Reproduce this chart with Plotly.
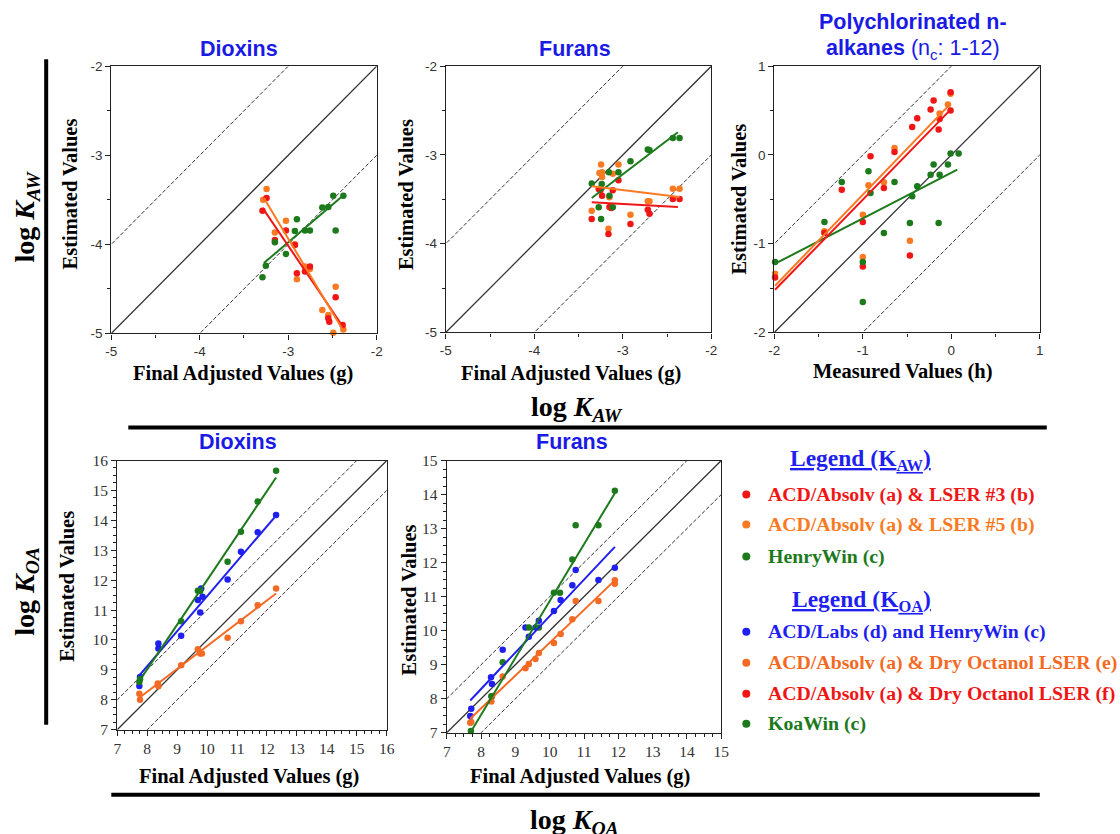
import plotly.graph_objects as go

W, H = 1120, 834
# the page keeps its default 8px body margin and is photographed slightly reduced;
# SX/SY convert target picture pixels into page pixels
BODY = 8
SX, SY = 1120 / 1136, 834 / 852

RED = "#f01616"
ORANGE = "#fa7a22"
ORANGE_2 = "#f46a24"
GREEN = "#1c7a1c"
BLUE = "#1f1ff0"
TITLE_BLUE = "#1a1ae6"

# ---------------- log K_AW : Dioxins ----------------
kaw_diox_orange_x = [-3.283, -3.245, -3.151, -3.026, -2.925, -2.902, -2.811, -2.755, -2.615, -2.547, -2.464, -2.491, -2.377]
kaw_diox_orange_y = [-3.500, -3.380, -3.867, -3.736, -3.999, -4.392, -4.250, -4.276, -4.737, -4.793, -4.475, -4.992, -4.955]
kaw_diox_red_x = [-3.291, -3.245, -3.151, -3.026, -2.925, -2.902, -2.811, -2.755, -2.536, -2.547, -2.464, -2.385]
kaw_diox_red_y = [-3.624, -3.481, -3.950, -3.845, -4.006, -4.325, -4.306, -4.250, -4.868, -4.831, -4.595, -4.906]
kaw_diox_green_x = [-3.291, -3.253, -3.151, -3.026, -2.902, -2.925, -2.811, -2.755, -2.615, -2.547, -2.491, -2.464, -2.377]
kaw_diox_green_y = [-4.370, -4.239, -3.976, -4.107, -3.717, -3.849, -3.845, -3.845, -3.586, -3.582, -3.455, -3.845, -3.455]
kaw_diox_fit_orange = ([-3.275, -2.377], [-3.48, -4.97])
kaw_diox_fit_red = ([-3.290, -2.385], [-3.59, -4.92])
kaw_diox_fit_green = ([-3.275, -2.366], [-4.21, -3.44])

# ---------------- log K_AW : Furans ----------------
kaw_fur_orange_x = [-3.351, -3.245, -3.264, -3.234, -3.234, -3.113, -3.151, -3.162, -3.049, -2.913, -2.717, -2.698, -2.434, -2.358]
kaw_fur_orange_y = [-3.628, -3.109, -3.203, -3.195, -3.248, -3.211, -3.477, -3.831, -3.109, -3.673, -3.523, -3.523, -3.380, -3.380]
kaw_fur_red_x = [-3.351, -3.272, -3.253, -3.234, -3.113, -3.151, -3.132, -3.162, -3.049, -2.913, -2.717, -2.698, -2.434, -2.358]
kaw_fur_red_y = [-3.722, -3.383, -3.398, -3.459, -3.398, -3.586, -3.598, -3.891, -3.286, -3.778, -3.617, -3.662, -3.496, -3.496]
kaw_fur_green_x = [-3.351, -3.272, -3.238, -3.245, -3.158, -3.151, -3.113, -3.049, -2.913, -2.717, -2.698, -2.434, -2.358]
kaw_fur_green_y = [-3.323, -3.590, -3.327, -3.722, -3.195, -3.459, -3.590, -3.195, -3.071, -2.940, -2.947, -2.808, -2.808]
kaw_fur_fit_orange = ([-3.351, -2.358], [-3.353, -3.474])
kaw_fur_fit_red = ([-3.351, -2.377], [-3.534, -3.586])
kaw_fur_fit_green = ([-3.351, -2.377], [-3.485, -2.744])

# ---------------- log K_AW : polychlorinated n-alkanes ----------------
kaw_alk_orange_x = [-1.992, -1.434, -1.0, -1.0, -0.936, -0.762, -0.642, -0.468, -0.132, -0.038, -0.008]
kaw_alk_orange_y = [-1.338, -0.861, -0.673, -1.150, -0.342, -0.308, 0.079, -0.966, 0.466, 0.568, 0.690]
kaw_alk_red_x = [-1.992, -1.434, -1.238, -1.0, -1.0, -0.913, -0.762, -0.642, -0.468, -0.442, -0.385, -0.234, -0.200, -0.143, -0.132, -0.008, -0.008]
kaw_alk_red_y = [-1.380, -0.880, -0.391, -0.756, -1.256, -0.015, -0.372, 0.034, -1.132, 0.316, 0.414, 0.511, 0.613, 0.286, 0.406, 0.500, 0.707]
kaw_alk_green_x = [-1.992, -1.434, -1.238, -0.936, -0.913, -1.0, -1.0, -0.762, -0.642, -0.442, -0.385, -0.468, -0.234, -0.200, -0.143, -0.132, -0.038, -0.008, 0.083]
kaw_alk_green_y = [-1.207, -0.756, -0.305, -0.184, -0.429, -1.207, -1.658, -0.880, -0.305, -0.466, -0.353, -0.767, -0.222, -0.109, -0.767, -0.222, -0.109, 0.015, 0.015]
kaw_alk_fit_orange = ([-1.992, -0.008], [-1.474, 0.579])
kaw_alk_fit_red = ([-1.992, -0.008], [-1.519, 0.511])
kaw_alk_fit_green = ([-1.992, 0.068], [-1.226, -0.165])

# ---------------- log K_OA : Dioxins ----------------
koa_diox_green_x = [7.737, 7.759, 9.133, 9.691, 9.769, 10.685, 11.131, 11.690, 12.304]
koa_diox_green_y = [8.597, 8.687, 10.630, 11.645, 11.634, 12.617, 13.622, 14.627, 15.654]
koa_diox_blue_x = [7.737, 7.759, 8.373, 8.373, 9.133, 9.691, 9.769, 9.803, 9.847, 10.685, 11.131, 11.690, 12.304]
koa_diox_blue_y = [8.463, 8.765, 9.881, 9.714, 10.138, 11.333, 10.920, 11.724, 11.444, 12.025, 12.952, 13.599, 14.180]
koa_diox_orange_x = [7.737, 7.759, 8.351, 8.373, 9.133, 9.691, 9.769, 9.825, 10.685, 11.131, 11.690, 12.304]
koa_diox_orange_y = [8.206, 8.005, 8.541, 8.452, 9.155, 9.691, 9.546, 9.546, 10.071, 10.630, 11.165, 11.724]
koa_diox_fit_green = ([7.737, 12.304], [8.631, 15.43])
koa_diox_fit_blue = ([7.737, 12.304], [8.82, 14.16])
koa_diox_fit_orange = ([7.737, 12.304], [8.07, 11.556])

# ---------------- log K_OA : Furans ----------------
koa_fur_green_x = [7.702, 8.298, 8.629, 9.390, 9.683, 10.122, 10.298, 10.659, 10.756, 11.420, 11.898]
koa_fur_green_y = [7.049, 8.073, 9.068, 10.093, 10.093, 11.117, 11.117, 12.093, 13.098, 13.098, 14.112]
koa_fur_blue_x = [7.683, 7.712, 8.288, 8.317, 8.629, 9.293, 9.390, 9.585, 9.683, 10.122, 10.317, 10.659, 10.756, 11.420, 11.898]
koa_fur_blue_y = [7.488, 7.702, 8.629, 8.434, 9.439, 10.093, 9.820, 10.093, 10.288, 10.580, 10.902, 11.332, 11.780, 11.488, 11.849]
koa_fur_orange_x = [7.683, 7.712, 8.298, 8.317, 8.629, 9.293, 9.390, 9.585, 9.683, 10.122, 10.317, 10.659, 10.756, 11.420, 11.898, 11.898]
koa_fur_orange_y = [7.293, 7.312, 7.917, 8.073, 8.649, 8.893, 9.020, 9.166, 9.341, 9.634, 9.898, 10.337, 10.873, 10.873, 11.380, 11.478]
koa_fur_fit_green = ([7.683, 11.898], [7.0, 14.04])
koa_fur_fit_blue = ([7.683, 11.898], [7.946, 12.463])
koa_fur_fit_orange = ([7.683, 11.898], [7.41, 11.478])

kaw_ticks_a = [-5, -4, -3, -2]
kaw_ticks_b = [-2, -1, 0, 1]
koa_ticks_a = list(range(7, 17))
koa_ticks_b = list(range(7, 16))


def fx(p):
    """picture column -> paper x"""
    return (p / SX - BODY) / W


def fy(p):
    """picture row -> paper y"""
    return 1 - (p / SY - BODY) / H


SANS = "Liberation Sans, Arial, sans-serif"
SERIF = "Liberation Serif, Times New Roman, serif"

panels = [
    dict(xd=(113, 378), yd=(65, 332), rng=(-5, -2), ticks=kaw_ticks_a, minor=0.5, top=True,
         pts=[(kaw_diox_orange_x, kaw_diox_orange_y, ORANGE), (kaw_diox_red_x, kaw_diox_red_y, RED),
              (kaw_diox_green_x, kaw_diox_green_y, GREEN)],
         fits=[(kaw_diox_fit_green, GREEN), (kaw_diox_fit_red, RED), (kaw_diox_fit_orange, ORANGE)]),
    dict(xd=(447, 712), yd=(65, 331), rng=(-5, -2), ticks=kaw_ticks_a, minor=0.5, top=True,
         pts=[(kaw_fur_orange_x, kaw_fur_orange_y, ORANGE), (kaw_fur_red_x, kaw_fur_red_y, RED),
              (kaw_fur_green_x, kaw_fur_green_y, GREEN)],
         fits=[(kaw_fur_fit_green, GREEN), (kaw_fur_fit_red, RED), (kaw_fur_fit_orange, ORANGE)]),
    dict(xd=(775, 1040), yd=(65, 331), rng=(-2, 1), ticks=kaw_ticks_b, minor=0.5, top=True,
         pts=[(kaw_alk_orange_x, kaw_alk_orange_y, ORANGE), (kaw_alk_red_x, kaw_alk_red_y, RED),
              (kaw_alk_green_x, kaw_alk_green_y, GREEN)],
         fits=[(kaw_alk_fit_green, GREEN), (kaw_alk_fit_red, RED), (kaw_alk_fit_orange, ORANGE)]),
    dict(xd=(119, 388), yd=(459, 728), rng=(7, 16), ticks=koa_ticks_a, minor=0.25, top=False,
         pts=[(koa_diox_orange_x, koa_diox_orange_y, ORANGE_2), (koa_diox_blue_x, koa_diox_blue_y, BLUE),
              (koa_diox_green_x, koa_diox_green_y, GREEN)],
         fits=[(koa_diox_fit_orange, ORANGE_2), (koa_diox_fit_blue, BLUE), (koa_diox_fit_green, GREEN)]),
    dict(xd=(448, 722), yd=(459, 731), rng=(7, 15), ticks=koa_ticks_b, minor=0.25, top=False,
         pts=[(koa_fur_orange_x, koa_fur_orange_y, ORANGE_2), (koa_fur_blue_x, koa_fur_blue_y, BLUE),
              (koa_fur_green_x, koa_fur_green_y, GREEN)],
         fits=[(koa_fur_fit_orange, ORANGE_2), (koa_fur_fit_blue, BLUE), (koa_fur_fit_green, GREEN)]),
]

fig = go.Figure()
layout = dict(width=W, height=H, margin=dict(l=0, r=0, t=0, b=0), showlegend=False,
              plot_bgcolor="white", paper_bgcolor="white")

for i, p in enumerate(panels, start=1):
    sfx = "" if i == 1 else str(i)
    xa, ya = "x" + sfx, "y" + sfx
    lo, hi = p["rng"]
    tfont = dict(family=SANS, size=13.5, color="#333") if p["top"] else dict(family=SERIF, size=15.5, color="#333")
    common = dict(range=[lo, hi], showgrid=False, zeroline=False, showline=True, linecolor="#222",
                  linewidth=1.3, mirror=True, ticks="outside", ticklen=5, tickwidth=1, tickcolor="#222",
                  tickmode="array", tickvals=p["ticks"], ticktext=[str(t) for t in p["ticks"]],
                  minor=dict(dtick=p["minor"], tick0=lo, ticks="outside", ticklen=3, tickwidth=1,
                             tickcolor="#222", showgrid=False),
                  tickfont=tfont, fixedrange=True)
    layout["xaxis" + sfx] = dict(common, domain=[fx(p["xd"][0]), fx(p["xd"][1])], anchor=ya)
    layout["yaxis" + sfx] = dict(common, domain=[fy(p["yd"][1]), fy(p["yd"][0])], anchor=xa)

    # 1:1 line and +/- one log unit bands
    ref_x = [lo - 2, hi + 2]
    for off, dash, width in [(0, "solid", 1.3), (1, "4px,2px", 1), (-1, "4px,2px", 1)]:
        fig.add_trace(go.Scatter(x=ref_x, y=[v + off for v in ref_x], mode="lines", xaxis=xa, yaxis=ya,
                                 line=dict(color="#333", width=width, dash=dash), hoverinfo="skip"))
    for xs, ys, col in p["pts"]:
        fig.add_trace(go.Scatter(x=xs, y=ys, mode="markers", xaxis=xa, yaxis=ya, cliponaxis=False,
                                 marker=dict(color=col, size=6.5, line=dict(width=0))))
    for (fxs, fys), col in p["fits"]:
        fig.add_trace(go.Scatter(x=fxs, y=fys, mode="lines", xaxis=xa, yaxis=ya,
                                 line=dict(color=col, width=2)))

annotations = []


def note(text, x, y, size, color="black", family=SERIF, angle=0, xanchor="center", yanchor="middle"):
    annotations.append(dict(text=text, x=fx(x), y=fy(y), xref="paper", yref="paper", showarrow=False,
                            font=dict(family=family, size=size, color=color), textangle=angle,
                            xanchor=xanchor, yanchor=yanchor))


TITLE_FONT = "Liberation Sans Narrow, Liberation Sans, Arial, sans-serif"
# panel titles
note("<b>Dioxins</b>", 241, 48, 21.5, TITLE_BLUE, TITLE_FONT)
note("<b>Furans</b>", 576, 48, 21.5, TITLE_BLUE, TITLE_FONT)
note("<b>Polychlorinated n-</b>", 913, 21, 21.5, TITLE_BLUE, TITLE_FONT)
note("<b>alkanes</b> (n<sub>c</sub>: 1-12)", 913, 48, 21.5, TITLE_BLUE, TITLE_FONT)
note("<b>Dioxins</b>", 240, 441, 21.5, TITLE_BLUE, TITLE_FONT)
note("<b>Furans</b>", 573, 441, 21.5, TITLE_BLUE, TITLE_FONT)

# axis titles
for x, y in [(72, 193), (408, 193), (740, 198), (68, 585), (410, 598)]:
    note("<b>Estimated Values</b>", x, y, 20.5, angle=-90)
for x, y in [(245, 372), (572, 372), (250, 775), (581, 775)]:
    note("<b>Final Adjusted Values (g)</b>", x, y, 20.5)
note("<b>Measured Values (h)</b>", 903, 370, 20.5)

# section labels
note("<b>log <i>K</i><sub><i>AW</i></sub></b>", 28, 215, 28, angle=-90)
note("<b>log <i>K</i><sub><i>AW</i></sub></b>", 578, 407, 28)
note("<b>log <i>K</i><sub><i>OA</i></sub></b>", 28, 590, 28, angle=-90)
note("<b>log <i>K</i><sub><i>OA</i></sub></b>", 575, 820, 28)

# legend blocks
note("<b><u>Legend (K<sub>AW</sub>)</u></b>", 789, 458, 23.5, BLUE, xanchor="left")
note("<b><u>Legend (K<sub>OA</sub>)</u></b>", 791, 599, 23.5, BLUE, xanchor="left")
legend_items = [
    ("ACD/Absolv (a) &amp; LSER #3 (b)", RED, 493),
    ("ACD/Absolv (a) &amp; LSER #5 (b)", ORANGE, 523),
    ("HenryWin (c)", GREEN, 555),
    ("ACD/Labs (d) and HenryWin (c)", BLUE, 630),
    ("ACD/Absolv (a) &amp; Dry Octanol LSER (e)", ORANGE_2, 661),
    ("ACD/Absolv (a) &amp; Dry Octanol LSER (f)", RED, 692),
    ("KoaWin (c)", GREEN, 722),
]
shapes = []
for text, col, y in legend_items:
    note("<b>" + text + "</b>", 767, y, 19.8, col, xanchor="left")
    shapes.append(dict(type="circle", xref="paper", yref="paper", x0=fx(743), x1=fx(751),
                       y0=fy(y + 4), y1=fy(y - 4), fillcolor=col, line=dict(width=0)))

# separator rules
for x0, y0, x1, y1 in [(48, 58, 48, 723), (130, 426, 1047, 426), (113, 793, 1040, 793)]:
    shapes.append(dict(type="line", xref="paper", yref="paper", x0=fx(x0), y0=fy(y0), x1=fx(x1), y1=fy(y1),
                       line=dict(color="black", width=4)))

layout["annotations"] = annotations
layout["shapes"] = shapes
fig.update_layout(**layout)
fig.write_html("out.html")
